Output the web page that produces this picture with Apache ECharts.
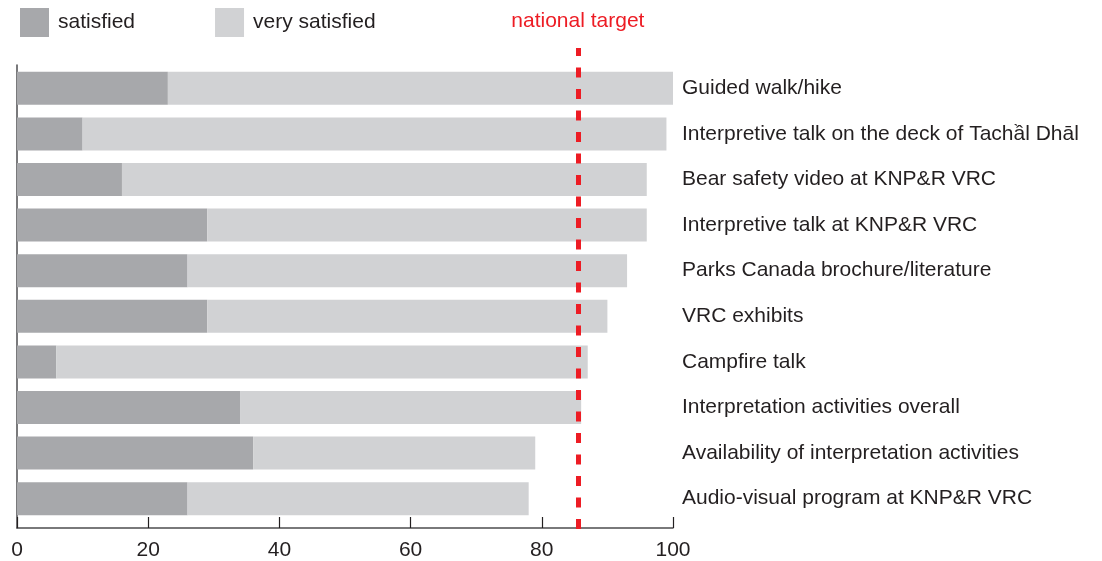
<!DOCTYPE html>
<html>
<head>
<meta charset="utf-8">
<script src="https://cdn.jsdelivr.net/npm/echarts@6/dist/echarts.min.js"></script>
<style>
  html, body { margin: 0; padding: 0; background: #fff; }
  #main { width: 1102px; height: 561px; }
</style>
</head>
<body>
<div id="main"></div>
<script>
const categories = [
  'Guided walk/hike',
  'Interpretive talk on the deck of Tachầl Dhāl',
  'Bear safety video at KNP&R VRC',
  'Interpretive talk at KNP&R VRC',
  'Parks Canada brochure/literature',
  'VRC exhibits',
  'Campfire talk',
  'Interpretation activities overall',
  'Availability of interpretation activities',
  'Audio-visual program at KNP&R VRC'
];
const satisfied = [23, 10, 16, 29, 26, 29, 6, 34, 36, 26];
const verySatisfied = [77, 89, 80, 67, 67, 61, 81, 52, 43, 52];
const nationalTarget = 85.5;
const xTicks = [0, 20, 40, 60, 80, 100];

const font = 'Liberation Sans, Arial, Helvetica, sans-serif';
const textColor = '#231f20';

const chart = echarts.init(document.getElementById('main'));

var option = {
  animation: false,
  textStyle: { fontFamily: font },
  legend: {
    left: 20,
    top: 8,
    padding: 0,
    icon: 'rect',
    itemWidth: 29,
    itemHeight: 29,
    itemGap: 80,
    textStyle: { fontSize: 21, color: textColor, fontFamily: font, padding: [2, 0, 0, 4] },
    data: ['satisfied', 'very satisfied']
  },
  grid: [
    // axes
    { left: 17, right: 429, top: 65, bottom: 32 },
    // bars
    { left: 17, right: 429, top: 65.5, height: 456 },
    // target line
    { left: 17, right: 429, top: 48, bottom: 32 }
  ],
  xAxis: [
    {
      gridIndex: 0,
      type: 'value',
      min: xTicks[0],
      max: xTicks[xTicks.length - 1],
      interval: 20,
      axisLine: { show: true, lineStyle: { color: '#4d4d4f', width: 1.5 } },
      axisTick: { show: true, inside: true, length: 11, lineStyle: { color: '#231f20', width: 1.2 } },
      axisLabel: { fontSize: 21, color: textColor, margin: 12, fontFamily: font },
      splitLine: { show: false }
    },
    { gridIndex: 1, type: 'value', min: 0, max: 100, show: false },
    { gridIndex: 2, type: 'value', min: 0, max: 100, show: false }
  ],
  yAxis: [
    {
      gridIndex: 0,
      type: 'value',
      axisLine: { show: true, lineStyle: { color: '#4d4d4f', width: 1.5 } },
      axisTick: { show: false },
      axisLabel: { show: false },
      splitLine: { show: false }
    },
    {
      gridIndex: 1,
      type: 'category',
      inverse: true,
      position: 'right',
      data: categories,
      axisLine: { show: false },
      axisTick: { show: false },
      axisLabel: { fontSize: 21, color: textColor, margin: 9, fontFamily: font }
    },
    { gridIndex: 2, type: 'value', min: 0, max: 1, show: false }
  ],
  series: [
    {
      name: 'satisfied',
      type: 'bar',
      stack: 'total',
      xAxisIndex: 1,
      yAxisIndex: 1,
      barCategoryGap: '27.6%',
      itemStyle: { color: '#a7a8ab' },
      data: satisfied
    },
    {
      name: 'very satisfied',
      type: 'bar',
      stack: 'total',
      xAxisIndex: 1,
      yAxisIndex: 1,
      itemStyle: { color: '#d1d2d4' },
      data: verySatisfied
    },
    {
      name: 'target',
      type: 'line',
      xAxisIndex: 2,
      yAxisIndex: 2,
      data: [],
      z: 5,
      markLine: {
        silent: true,
        symbol: ['none', 'none'],
        lineStyle: { color: '#ed1c24', type: [10, 11.5], width: 5 },
        label: {
          show: true,
          position: 'end',
          formatter: 'national target',
          color: '#ed1c24',
          fontSize: 21,
          fontFamily: font,
          distance: 16
        },
        data: [{ xAxis: nationalTarget }]
      }
    }
  ]
};

chart.setOption(option);
</script>
</body>
</html>
